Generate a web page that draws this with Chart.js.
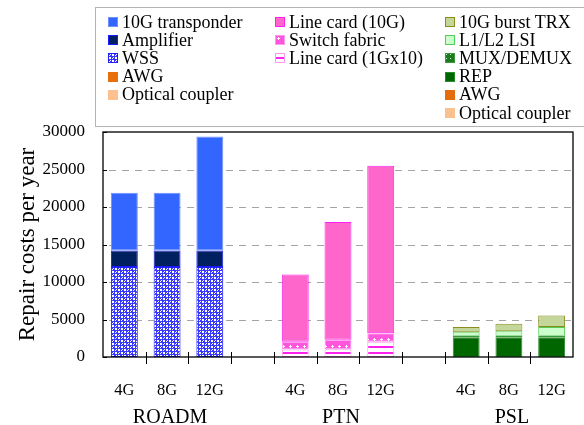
<!DOCTYPE html>
<html>
<head>
<meta charset="utf-8">
<script src="https://cdn.jsdelivr.net/npm/chart.js@4.4.1/dist/chart.umd.min.js"></script>
<style>
html,body{margin:0;padding:0;background:#fff;}
#wrap{position:relative;width:584px;height:425px;}
#legend{position:absolute;left:95px;top:7px;width:489px;height:120px;border:1px solid #b4b4b4;border-right:none;box-sizing:border-box;font-family:'Liberation Serif',serif;font-size:18px;color:#000;background:#fff;}
.col{position:absolute;top:5px;}
.item{height:18.2px;display:flex;align-items:center;white-space:nowrap;}
.item canvas{margin-right:4px;}
</style>
</head>
<body>
<div id="wrap">
  <canvas id="chart" width="584" height="425"></canvas>
  <div id="legend"></div>
</div>
<script>
// x categories: three groups of line rates with an empty slot between groups
const rates = ['4G','8G','12G'];
const groups = ['ROADM','PTN','PSL'];

// ROADM (repair cost per year)
const roadmCoupler = [0, 0, 0];
const roadmAwg = [0, 0, 0];
const wss = [12000, 12000, 12000];
const amplifier = [2200, 2200, 2200];
const transponder = [7700, 7700, 15200];

// PTN
const lineCard1G = [1000, 1050, 2050];
const switchFabric = [1050, 1250, 1120];
const lineCard10G = [8950, 15700, 22330];

// PSL
const pslCoupler = [0, 0, 0];
const pslAwg = [0, 0, 0];
const rep = [2650, 2650, 2650];
const muxDemux = [200, 200, 200];
const lsi = [450, 600, 1150];
const burstTrx = [700, 1000, 1550];

const yTicks = [0, 5000, 10000, 15000, 20000, 25000, 30000];

// build the 11 slot labels: 4G 8G 12G '' 4G 8G 12G '' 4G 8G 12G
const labels = [];
groups.forEach((g, i) => { if (i > 0) labels.push(''); rates.forEach(r => labels.push(r)); });

function inGroup(gi, vals) {
  const out = labels.map(() => null);
  vals.forEach((v, k) => { out[gi * 4 + k] = v; });
  return out;
}

function tile(w, h, draw) {
  const c = document.createElement('canvas');
  c.width = w; c.height = h;
  const g = c.getContext('2d');
  draw(g);
  return g.createPattern(c, 'repeat');
}

const wssFill = tile(6, 6, g => {
  g.fillStyle = '#ffffff'; g.fillRect(0, 0, 6, 6);
  g.fillStyle = '#3a3aff';
  g.fillRect(0, 0, 6, 1); g.fillRect(0, 3, 6, 1);
  g.fillRect(0, 0, 1, 6); g.fillRect(3, 0, 1, 6);
  g.fillRect(1, 1, 1, 1); g.fillRect(4, 4, 1, 1); g.fillRect(2, 2, 1, 1); g.fillRect(5, 5, 1, 1);
});
const fabricFill = tile(7, 7, g => {
  g.fillStyle = '#ff55dd'; g.fillRect(0, 0, 7, 7);
  g.fillStyle = '#ffffff';
  g.fillRect(3, 2, 1, 3); g.fillRect(2, 3, 3, 1);
});
const lc1gFill = tile(6, 6, g => {
  g.fillStyle = '#ffffff'; g.fillRect(0, 0, 6, 6);
  g.fillStyle = '#ff22ee'; g.fillRect(0, 4, 6, 2);
});
const muxFill = tile(4, 4, g => {
  g.fillStyle = '#1e7a1e'; g.fillRect(0, 0, 4, 4);
  g.fillStyle = '#c8f0c8'; g.fillRect(1, 1, 1, 1);
});

const series = [
  { label: 'Optical coupler', g: 0, vals: roadmCoupler, bg: '#ffc090', bc: '#ffc090' },
  { label: 'AWG', g: 0, vals: roadmAwg, bg: '#e8700a', bc: '#e8700a' },
  { label: 'WSS', g: 0, vals: wss, bg: wssFill, bc: '#2020ff' },
  { label: 'Amplifier', g: 0, vals: amplifier, bg: '#002060', bc: '#1a1aff' },
  { label: '10G transponder', g: 0, vals: transponder, bg: '#3366ff', bc: '#6f8fff' },
  { label: 'Line card (1Gx10)', g: 1, vals: lineCard1G, bg: lc1gFill, bc: '#ff99ee' },
  { label: 'Switch fabric', g: 1, vals: switchFabric, bg: fabricFill, bc: '#ff99ee' },
  { label: 'Line card (10G)', g: 1, vals: lineCard10G, bg: '#ff66cc', bc: '#ff22ee' },
  { label: 'Optical coupler', g: 2, vals: pslCoupler, bg: '#fac090', bc: '#fac090' },
  { label: 'AWG', g: 2, vals: pslAwg, bg: '#e46c0a', bc: '#e46c0a' },
  { label: 'REP', g: 2, vals: rep, bg: '#006600', bc: '#2a8a2a' },
  { label: 'MUX/DEMUX', g: 2, vals: muxDemux, bg: muxFill, bc: '#3a9a3a' },
  { label: 'L1/L2 LSI', g: 2, vals: lsi, bg: '#ccffcc', bc: '#55cc55' },
  { label: '10G burst TRX', g: 2, vals: burstTrx, bg: '#c4d79b', bc: '#8c8c1e' }
];

const datasets = series.map(s => ({
  label: s.label,
  data: inGroup(s.g, s.vals),
  backgroundColor: s.bg,
  borderColor: s.bc,
  borderWidth: 1,
  borderSkipped: false,
  barPercentage: 0.63,
  categoryPercentage: 1,
  stack: 'all'
}));

const serif = 'Liberation Serif, serif';

const frame = {
  id: 'frame',
  beforeDatasetsDraw(chart) {
    const { ctx, chartArea: a, scales: { y } } = chart;
    ctx.save();
    ctx.strokeStyle = '#a4a4a4';
    ctx.lineWidth = 1;
    ctx.setLineDash([7, 6]);
    yTicks.slice(1, -1).forEach(v => {
      const py = Math.round(y.getPixelForValue(v)) + 0.5;
      ctx.beginPath(); ctx.moveTo(a.left + 6, py); ctx.lineTo(a.right, py); ctx.stroke();
    });
    ctx.restore();
  },
  afterDraw(chart) {
    const { ctx, chartArea: a, scales: { x, y } } = chart;
    ctx.save();
    ctx.strokeStyle = '#000';
    ctx.lineWidth = 1.3;
    ctx.strokeRect(a.left, a.top, a.right - a.left, a.bottom - a.top);
    // x boundary ticks crossing the axis
    ctx.lineWidth = 1;
    for (let i = 1; i < labels.length; i++) {
      const px = Math.round((x.getPixelForValue(i - 1) + x.getPixelForValue(i)) / 2) + 0.5;
      ctx.beginPath(); ctx.moveTo(px, a.bottom - 5); ctx.lineTo(px, a.bottom + 7); ctx.stroke();
    }
    // inward y ticks
    yTicks.forEach(v => {
      const py = Math.round(y.getPixelForValue(v)) + 0.5;
      ctx.beginPath(); ctx.moveTo(a.left, py); ctx.lineTo(a.left + 4, py); ctx.stroke();
    });
    // group names
    ctx.fillStyle = '#000';
    ctx.font = '20px ' + serif;
    ctx.textAlign = 'center';
    ctx.textBaseline = 'alphabetic';
    groups.forEach((g, i) => {
      ctx.fillText(g, x.getPixelForValue(i * 4 + 1) + 3, 423);
    });
    ctx.restore();
  }
};

const chart = new Chart(document.getElementById('chart'), {
  type: 'bar',
  data: { labels, datasets },
  plugins: [frame],
  options: {
    responsive: false,
    animation: false,
    layout: { padding: { top: 132, right: 11, left: 0, bottom: 0 } },
    plugins: { legend: { display: false }, tooltip: { enabled: false } },
    scales: {
      x: {
        stacked: true,
        grid: { display: false },
        border: { display: false },
        ticks: { color: '#000', font: { family: serif, size: 16.5 }, padding: 16, maxRotation: 0, autoSkip: false },
        afterFit(s) { s.height = 68; }
      },
      y: {
        stacked: true,
        min: 0, max: 30000,
        afterBuildTicks(s) { s.ticks = yTicks.map(v => ({ value: v })); },
        grid: { display: false },
        border: { display: false },
        ticks: { color: '#000', font: { family: serif, size: 17 }, padding: 10, callback: v => String(v) },
        title: { display: true, text: 'Repair costs per year', color: '#000', font: { family: serif, size: 23 }, padding: { top: 14, bottom: 0 } },
        afterFit(s) { s.width = 103; }
      }
    }
  }
});

// legend: three columns, one per group, top item first
const legendCols = [
  ['10G transponder', 'Amplifier', 'WSS', 'AWG', 'Optical coupler'],
  ['Line card (10G)', 'Switch fabric', 'Line card (1Gx10)'],
  ['10G burst TRX', 'L1/L2 LSI', 'MUX/DEMUX', 'REP', 'AWG', 'Optical coupler']
];
const colLeft = [12, 179, 349];
const legendEl = document.getElementById('legend');
legendCols.forEach((names, gi) => {
  const col = document.createElement('div');
  col.className = 'col';
  col.style.left = colLeft[gi] + 'px';
  names.forEach(name => {
    const s = series.find(d => d.g === gi && d.label === name);
    const item = document.createElement('div');
    item.className = 'item';
    const sw = document.createElement('canvas');
    sw.width = 10; sw.height = 10;
    const g = sw.getContext('2d');
    g.fillStyle = s.bg; g.fillRect(0, 0, 10, 10);
    g.strokeStyle = s.bc; g.lineWidth = 1; g.strokeRect(0.5, 0.5, 9, 9);
    item.appendChild(sw);
    const t = document.createElement('span');
    t.textContent = name;
    item.appendChild(t);
    col.appendChild(item);
  });
  legendEl.appendChild(col);
});
</script>
</body>
</html>
